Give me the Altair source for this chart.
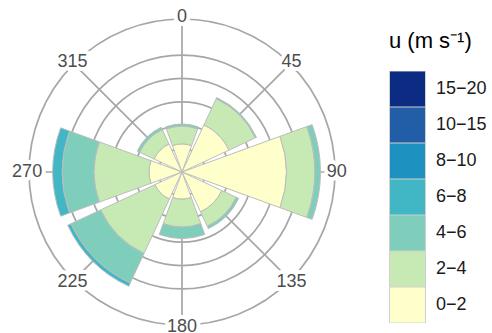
import math
import altair as alt
import pandas as pd

# Wind directions (degrees, clockwise from north) and their tick labels
directions = [0, 45, 90, 135, 180, 225, 270, 315]
dir_labels = ["0", "45", "90", "135", "180", "225", "270", "315"]

# Speed classes (m/s) and their colours (YlGnBu)
speed_bins = ["0−2", "2−4", "4−6", "6−8", "8−10", "10−15", "15−20"]
bin_colors = ["#ffffcc", "#c7e9b4", "#7fcdbb", "#41b6c4", "#1d91c0", "#225ea8", "#0c2c84"]

# Frequency of each speed class per direction
freq_0_2 = [6.0, 11.1, 22.3, 9.4, 5.8, 6.4, 7.05, 6.6]
freq_2_4 = [3.8, 6.2, 6.1, 3.4, 5.95, 12.8, 11.75, 3.4]
freq_4_6 = [0.45, 0.25, 1.2, 0.55, 2.45, 7.0, 6.8, 0.55]
freq_6_8 = [0, 0, 0, 0, 0, 0.75, 2.0, 0]
freq_8_10 = [0, 0, 0, 0, 0, 0, 0, 0]
freq_10_15 = [0, 0, 0, 0, 0, 0, 0, 0]
freq_15_20 = [0, 0, 0, 0, 0, 0, 0, 0]

# Grid circles and the outer rim of the radial axis
rings = [5, 10, 15, 20, 25]
r_max = 32.7
label_r = 33.1

CX, CY = 182, 172          # centre of the rose
R_PIX = 153                # radius of the outer rim in pixels
HALF = 20                  # half angular width of a petal
GRID = "#a6a6a6"
FONT = "Liberation Sans"

series = [freq_0_2, freq_2_4, freq_4_6, freq_6_8, freq_8_10, freq_10_15, freq_15_20]
rows = []
for i, d in enumerate(directions):
    base = 0.0
    for name, vals in zip(speed_bins, series):
        v = vals[i]
        if v > 0:
            rows.append({"dir": d, "a0": d - HALF, "a1": d + HALF,
                         "r0": base, "r1": base + v, "bin": name})
        base += v
bars_df = pd.DataFrame(rows)

rings_df = pd.DataFrame({"r": rings + [r_max], "t0": 0, "t1": 360, "z": 0})
spokes_df = pd.DataFrame({"dir": directions, "r": r_max, "z": 0})
labels_df = pd.DataFrame({"dir": directions, "label": dir_labels, "r": label_r})

theta_scale = alt.Scale(domain=[0, 360], range=[0, 2 * math.pi])
r_scale = alt.Scale(domain=[0, r_max], range=[0, R_PIX])

grid = alt.Chart(rings_df).mark_arc(
    x=CX, y=CY, filled=False, stroke=GRID, strokeWidth=1.7
).encode(
    theta=alt.Theta("t0:Q", scale=theta_scale, stack=None),
    theta2="t1:Q",
    radius=alt.Radius("r:Q", scale=r_scale, stack=None),
    radius2="z:Q",
)

spokes = alt.Chart(spokes_df).mark_arc(
    x=CX, y=CY, filled=False, stroke=GRID, strokeWidth=1.7
).encode(
    theta=alt.Theta("dir:Q", scale=theta_scale, stack=None),
    theta2="dir:Q",
    radius=alt.Radius("r:Q", scale=r_scale, stack=None),
    radius2="z:Q",
)

bars = alt.Chart(bars_df).mark_arc(
    x=CX, y=CY, stroke="#bdbdbd", strokeWidth=1
).encode(
    theta=alt.Theta("a0:Q", scale=theta_scale, stack=None),
    theta2="a1:Q",
    radius=alt.Radius("r1:Q", scale=r_scale, stack=None),
    radius2="r0:Q",
    color=alt.Color(
        "bin:N",
        scale=alt.Scale(domain=speed_bins[::-1], range=bin_colors[::-1]),
        legend=alt.Legend(
            title="u (m s⁻¹)", orient="none", legendX=389, legendY=31,
            symbolType="square", symbolSize=1296, symbolStrokeColor="#d0d0d0",
            symbolStrokeWidth=1, symbolOpacity=1, rowPadding=0, clipHeight=36,
            labelFont=FONT, labelFontSize=18, labelColor="#1a1a1a", labelOffset=10,
            titleFont=FONT, titleFontSize=22, titleFontWeight="normal",
            titleColor="#000000", titlePadding=18, padding=0,
        ),
    ),
)

halo = alt.Chart(labels_df).mark_text(
    x=CX, y=CY, font=FONT, fontSize=18, align="center", baseline="middle",
    fill="white", stroke="white", strokeWidth=8, strokeJoin="round"
).encode(
    theta=alt.Theta("dir:Q", scale=theta_scale, stack=None),
    radius=alt.Radius("r:Q", scale=r_scale, stack=None),
    text="label:N",
)

labels = alt.Chart(labels_df).mark_text(
    x=CX, y=CY, font=FONT, fontSize=18, align="center", baseline="middle",
    fill="#4d4d4d"
).encode(
    theta=alt.Theta("dir:Q", scale=theta_scale, stack=None),
    radius=alt.Radius("r:Q", scale=r_scale, stack=None),
    text="label:N",
)

chart = alt.layer(grid, spokes, bars, halo, labels).properties(
    width=492, height=333, padding=0, autosize="none"
).configure_view(stroke=None)

chart.save("out.html", embed_options={"renderer": "svg", "actions": False})
